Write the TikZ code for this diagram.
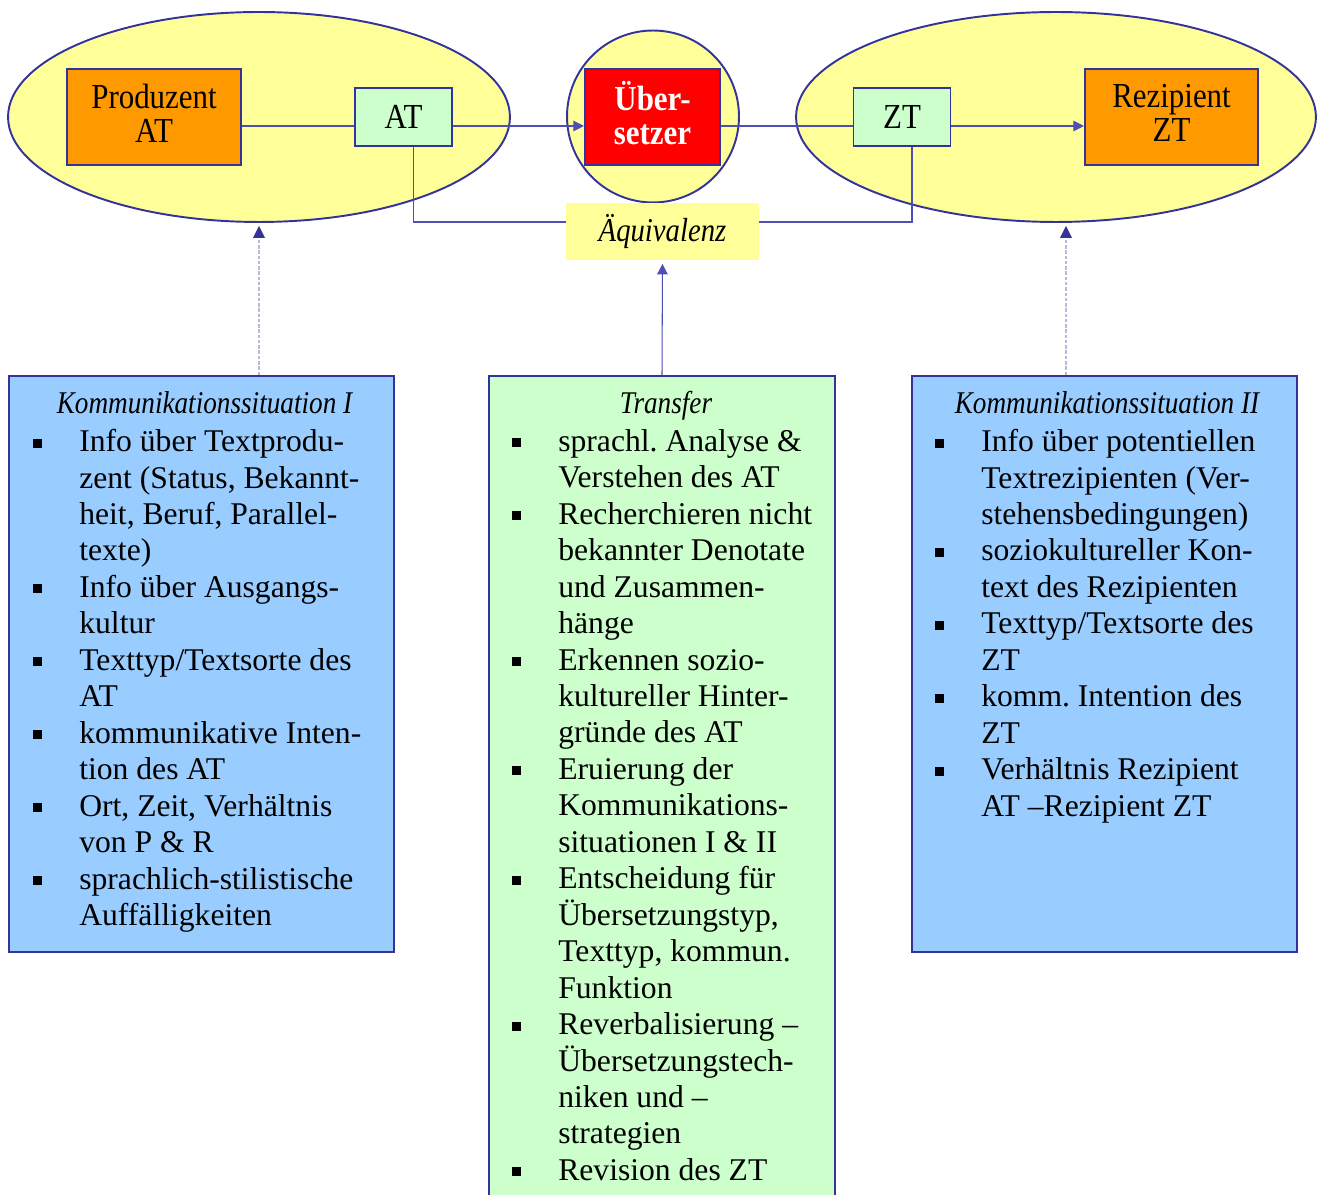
\documentclass[tikz,border=0pt]{standalone}
\usepackage{fontspec}
\setmainfont{Liberation Serif}
\newfontfamily\condfont[FakeStretch=0.88]{Liberation Serif}
\newfontfamily\headfont[FakeStretch=0.86]{Liberation Serif}
\usetikzlibrary{shapes.geometric,arrows.meta}

\definecolor{frameblue}{HTML}{333399}
\definecolor{lineblue}{HTML}{4F4FB3}
\definecolor{ellyellow}{HTML}{FFFF99}
\definecolor{boxorange}{HTML}{FF9900}
\definecolor{boxgreen}{HTML}{CCFFCC}
\definecolor{boxblue}{HTML}{99CCFF}
\definecolor{dashgrey}{HTML}{B8B8D8}

\newcommand{\blt}{\makebox[0.92cm][l]{\raisebox{0.08cm}{\rule{0.18cm}{0.18cm}}}}
\newcommand{\ind}{\hspace*{0.92cm}}
\frenchspacing

\begin{document}
\begin{tikzpicture}[x=0.02cm, y=-0.02cm,
		situation/.style = {ellipse, draw=frameblue, line width=1.1pt, fill=ellyellow, inner sep=0pt},
		actor/.style = {rectangle, draw=frameblue, line width=1.2pt, fill=boxorange, align=center, inner sep=0pt,
				minimum height=1.92cm, text depth=0.16cm, font=\condfont\fontsize{20}{19.5}\selectfont},
		textbox/.style = {rectangle, draw=frameblue, line width=1.1pt, fill=boxgreen, inner sep=0pt,
				minimum width=1.94cm, minimum height=1.16cm, font=\condfont\fontsize{20}{20}\selectfont},
		infobox/.style = {rectangle, draw=frameblue, line width=1.1pt, inner sep=0pt, minimum width=7.7cm},
		heading/.style = {anchor=base, inner sep=0pt, font=\headfont\itshape\fontsize{18}{20}\selectfont},
		bullets/.style = {anchor=north west, align=left, inner sep=0pt, font=\fontsize{18}{20.75}\selectfont},
		link/.style = {draw=lineblue, line width=0.6pt},
		tip/.style = {-{Triangle[width=6pt,length=6pt]}},
		hint/.style = {draw=dashgrey, line width=0.6pt, dash pattern=on 2pt off 1pt},
	]
	\useasboundingbox (0,0) rectangle (1322,1195);

	\node[situation, minimum width=10.04cm, minimum height=4.2cm] (ell1) at (259,117) {};
	\node[circle, draw=frameblue, line width=1.1pt, fill=ellyellow, minimum size=3.44cm, inner sep=0pt] (circ) at (653,116.5) {};
	\node[situation, minimum width=10.4cm, minimum height=4.2cm] (ell2) at (1056,117) {};

	\node[actor, minimum width=3.48cm] (prod) at (154,117) {Produzent\\AT};
	\node[textbox] (at) at (403.5,117) {AT};
	\node[actor, minimum width=2.7cm, fill=red, text=white, font=\condfont\bfseries\fontsize{20}{19.5}\selectfont] (ueb) at (652.5,117) {Über-\\setzer};
	\node[textbox] (zt) at (902,117) {ZT};
	\node[actor, minimum width=3.46cm] (rez) at (1171.5,117) {Rezipient\\ZT};

	\node[fill=ellyellow, minimum width=3.86cm, minimum height=1.14cm, inner sep=0pt,
		font=\headfont\itshape\fontsize{19}{19}\selectfont] (aeq) at (662.5,231.5) {Äquivalenz};

	\path[link] ([yshift=-0.18cm]prod.east) -- ([yshift=-0.18cm]at.west);
	\path[link, tip] ([yshift=-0.18cm]at.east) -- ([yshift=-0.18cm]ueb.west);
	\path[link] ([yshift=-0.18cm]ueb.east) -- ([yshift=-0.18cm]zt.west);
	\path[link, tip] ([yshift=-0.18cm]zt.east) -- ([yshift=-0.18cm]rez.west);
	\path[link] ([xshift=0.2cm]at.south) |- ([yshift=0.19cm]aeq.west);
	\path[link] ([xshift=0.2cm]zt.south) |- ([yshift=0.19cm]aeq.east);

	\node[infobox, fill=boxblue, minimum height=11.52cm] (kom1) at (201.5,664) {};
	\node[infobox, fill=boxgreen, minimum width=6.92cm, minimum height=16.68cm] (trans) at (662,793) {};
	\node[infobox, fill=boxblue, minimum height=11.52cm] (kom2) at (1104.5,664) {};

	\path[hint] (kom1.north -| ell1.south) -- ([yshift=-0.24cm]ell1.south);
	\fill[frameblue] (ell1.south) ++(0,3) -- ++(-6,12) -- ++(12,0) -- cycle;
	\path[hint] (kom2.north -| ell2.south) ++(10,0) -- ([shift={(10,-0.24cm)}]ell2.south);
	\fill[frameblue] (ell2.south) ++(10,3) -- ++(-6,12) -- ++(12,0) -- cycle;
	\path[link, tip, shorten >=2pt] (trans.north) -- (aeq.south);

	\node[heading] (h1) at (204.5,414) {Kommunikationssituation I};
	\node[heading] (h2) at (666,414) {Transfer};
	\node[heading] (h3) at (1107,414) {Kommunikationssituation II};

	\node[bullets] (l1) at (33,429) {\blt Info über Textprodu-\\
		\ind zent (Status, Bekannt-\\
		\ind heit, Beruf, Parallel-\\
		\ind texte)\\
		\blt Info über Ausgangs-\\
		\ind kultur\\
		\blt Texttyp/Textsorte des\\
		\ind AT\\
		\blt kommunikative Inten-\\
		\ind tion des AT\\
		\blt Ort, Zeit, Verhältnis\\
		\ind von P \& R\\
		\blt sprachlich-stilistische\\
		\ind Auffälligkeiten};
	\node[bullets] (l2) at (512,429) {\blt sprachl. Analyse \&\\
		\ind Verstehen des AT\\
		\blt Recherchieren nicht\\
		\ind bekannter Denotate\\
		\ind und Zusammen-\\
		\ind hänge\\
		\blt Erkennen sozio-\\
		\ind kultureller Hinter-\\
		\ind gründe des AT\\
		\blt Eruierung der\\
		\ind Kommunikations-\\
		\ind situationen I \& II\\
		\blt Entscheidung für\\
		\ind Übersetzungstyp,\\
		\ind Texttyp, kommun.\\
		\ind Funktion\\
		\blt Reverbalisierung –\\
		\ind Übersetzungstech-\\
		\ind niken und –\\
		\ind strategien\\
		\blt Revision des ZT};
	\node[bullets] (l3) at (935,429) {\blt Info über potentiellen\\
		\ind Textrezipienten (Ver-\\
		\ind stehensbedingungen)\\
		\blt soziokultureller Kon-\\
		\ind text des Rezipienten\\
		\blt Texttyp/Textsorte des\\
		\ind ZT\\
		\blt komm. Intention des\\
		\ind ZT\\
		\blt Verhältnis Rezipient\\
		\ind AT –Rezipient ZT};
\end{tikzpicture}
\end{document}
